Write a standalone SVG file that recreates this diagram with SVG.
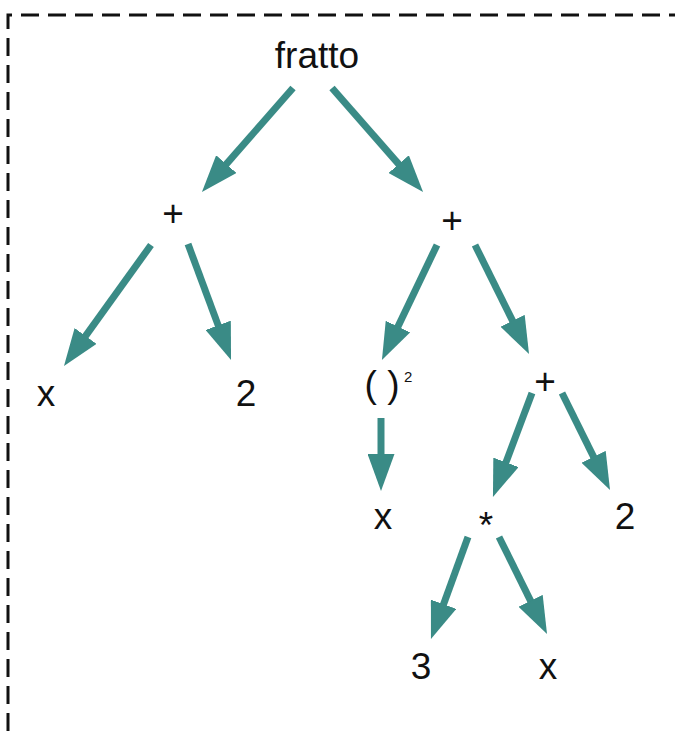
<svg xmlns="http://www.w3.org/2000/svg" width="675" height="731" viewBox="0 0 675 731">
<style>
.t{font-family:"Liberation Sans",Arial,sans-serif;font-size:37px;fill:#111;text-anchor:middle}
.s{font-family:"Liberation Sans",Arial,sans-serif;font-size:15px;fill:#111}
.e{stroke:#3a8b86;stroke-width:7;fill:none;marker-end:url(#ah)}
</style>
<defs>
<marker id="ah" markerUnits="userSpaceOnUse" markerWidth="37" markerHeight="27" viewBox="0 0 37 27" refX="7" refY="13.5" orient="auto">
<path d="M0,0 L37,13.5 L0,27 z" fill="#3a8b86"/>
</marker>
</defs>
<rect width="675" height="731" fill="#fff"/>
<path d="M8,731 V15 H675" fill="none" stroke="#111" stroke-width="3" stroke-dasharray="18 9"/>
<g id="connectors">
<line class="e" x1="293" y1="88" x2="221.7" y2="169.4"/>
<line class="e" x1="332" y1="88" x2="403.3" y2="169.4"/>
<line class="e" x1="151" y1="245" x2="81.5" y2="341.6"/>
<line class="e" x1="188" y1="244" x2="220.6" y2="331.9"/>
<line class="e" x1="437" y1="245" x2="394.9" y2="332.9"/>
<line class="e" x1="475" y1="245" x2="515.7" y2="327.1"/>
<line class="e" x1="381" y1="418" x2="381" y2="461"/>
<line class="e" x1="532" y1="393" x2="503.5" y2="468.9"/>
<line class="e" x1="562" y1="393" x2="596.7" y2="463.1"/>
<line class="e" x1="468" y1="537" x2="441.2" y2="610.8"/>
<line class="e" x1="499" y1="537" x2="533.7" y2="607.1"/>
</g>
<g id="n-fratto"><text class="t" x="317" y="68">fratto</text></g>
<g id="n-plus1"><text class="t" x="173" y="226">+</text></g>
<g id="n-plus2"><text class="t" x="452" y="233">+</text></g>
<g id="n-x1"><text class="t" x="46" y="406">x</text></g>
<g id="n-2a"><text class="t" x="246" y="406">2</text></g>
<g id="n-sq"><text class="t" x="382" y="397">( )</text><text class="s" x="404" y="382">2</text></g>
<g id="n-plus3"><text class="t" x="545" y="394">+</text></g>
<g id="n-x2"><text class="t" x="383" y="529">x</text></g>
<g id="n-mul"><text class="t" x="486" y="538">*</text></g>
<g id="n-2b"><text class="t" x="625" y="529">2</text></g>
<g id="n-3"><text class="t" x="421" y="679">3</text></g>
<g id="n-x3"><text class="t" x="548" y="679">x</text></g>
</svg>
